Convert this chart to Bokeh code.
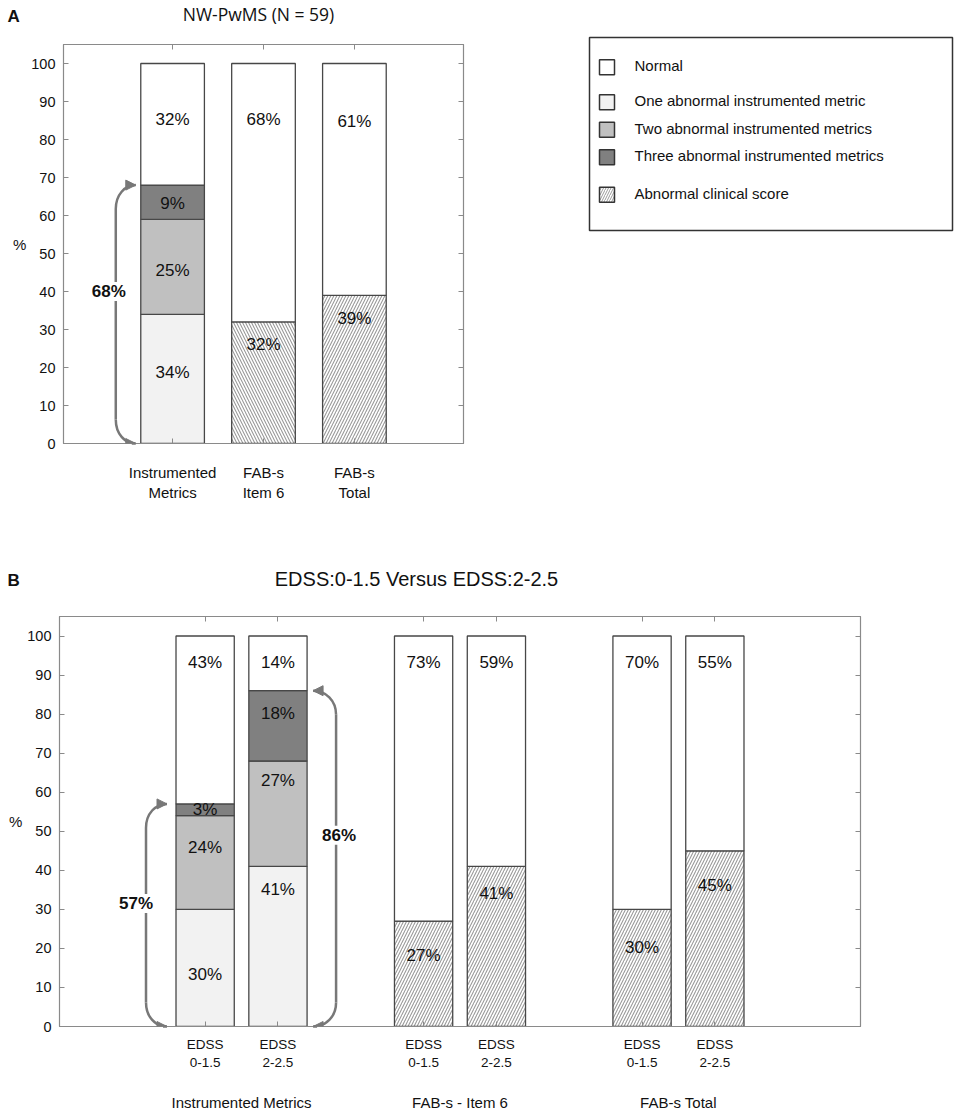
from bokeh.plotting import figure
from bokeh.models import (Range1d, LinearAxis, FixedTicker, CustomJSTickFormatter,
                          Label, Arrow, NormalHead)
from bokeh.layouts import column, row
from bokeh.embed import file_html
from bokeh.resources import INLINE
from bokeh.core.properties import value

# ------------------------------------------------------------------ data
A_TITLE = "NW-PwMS (N = 59)"
A_CATEGORIES = ["Instrumented\nMetrics", "FAB-s\nItem 6", "FAB-s\nTotal"]
A_INSTR = [34, 25, 9, 32]          # one / two / three abnormal metrics, normal
A_CLIN_ABNORMAL = [32, 39]         # FAB-s Item 6, FAB-s Total
A_CLIN_NORMAL = [68, 61]

B_TITLE = "EDSS:0-1.5 Versus EDSS:2-2.5"
B_GROUPS = ["Instrumented Metrics", "FAB-s - Item 6", "FAB-s Total"]
B_SUBGROUPS = ["EDSS\n0-1.5", "EDSS\n2-2.5"]
B_INSTR_ONE = [30, 41]
B_INSTR_TWO = [24, 27]
B_INSTR_THREE = [3, 18]
B_INSTR_NORMAL = [43, 14]
B_ITEM6_ABNORMAL = [27, 41]
B_ITEM6_NORMAL = [73, 59]
B_TOTAL_ABNORMAL = [30, 45]
B_TOTAL_NORMAL = [70, 55]

LEGEND_LABELS = ["Normal", "One abnormal instrumented metric",
                 "Two abnormal instrumented metrics",
                 "Three abnormal instrumented metrics", "Abnormal clinical score"]
Y_TICKS = list(range(0, 101, 10))

# ------------------------------------------------------------------ style
FONT = "Liberation Sans"
TITLE_FONT = "Open Sans"
FRAME = "#8a8a8a"
EDGE = "#474747"
TXT = "#111111"
C_NORMAL, C_ONE, C_TWO, C_THREE = "#ffffff", "#f2f2f2", "#c0c0c0", "#808080"
HATCH = "#9a9a9a"
ARROW_C = "#787878"
Y_MAX = 105
PCT_SIZE = "17px"

# label drops (in % units below the top of a segment)
A_DROP_INSTR = [15.3, 13.5, 4.8, 14.7]
A_DROP_CLIN = [(6, 14.7), (6, 15.3)]
B_DROP_INSTR = [[16.6, 8.1, 1.3, 6.7], [5.8, 5.0, 5.9, 6.7]]
B_DROP_ITEM6 = [(8.9, 6.7), (7.0, 6.7)]
B_DROP_TOTAL = [(9.7, 6.7), (8.9, 6.7)]


class Panel:
    def __init__(self, width, height, xr, fl, ft, fw, fh):
        self.xr = xr
        self.ppx = fw / (xr[1] - xr[0])
        self.ppy = fh / Y_MAX
        p = figure(width=width, height=height, x_range=Range1d(*xr), y_range=Range1d(0, Y_MAX),
                   x_axis_type=None, y_axis_type=None, toolbar_location=None,
                   output_backend="svg", min_border_left=fl, min_border_top=ft,
                   min_border_right=width - fl - fw, min_border_bottom=height - ft - fh)
        p.outline_line_color = FRAME
        p.outline_line_width = 1.2
        p.background_fill_color = "white"
        p.border_fill_color = "white"
        self.p = p


def pixel_fig(w, h):
    f = figure(width=w, height=h, x_range=Range1d(0, w), y_range=Range1d(h, 0),
               x_axis_type=None, y_axis_type=None, toolbar_location=None,
               output_backend="svg", min_border=0)
    f.outline_line_color = None
    return f


def make_axis(ticks, labels=None, size="15px", standoff=7, axis_label=None):
    ax = LinearAxis(ticker=FixedTicker(ticks=ticks))
    ax.major_tick_in = 5
    ax.major_tick_out = 0
    ax.minor_tick_in = 0
    ax.minor_tick_out = 0
    ax.axis_line_color = FRAME
    ax.major_tick_line_color = FRAME
    ax.major_label_text_font = FONT
    ax.major_label_text_font_size = size
    ax.major_label_text_color = TXT
    if labels is None:
        ax.major_label_standoff = 0
        ax.formatter = CustomJSTickFormatter(code="return ''")
    else:
        ax.major_label_standoff = standoff
        ax.formatter = CustomJSTickFormatter(args=dict(labels=labels), code="return labels[index]")
    if axis_label:
        ax.axis_label = axis_label
        ax.axis_label_text_font = FONT
        ax.axis_label_text_font_size = "15px"
        ax.axis_label_text_font_style = "normal"
        ax.axis_label_text_color = TXT
        ax.axis_label_standoff = 2
        try:
            ax.axis_label_orientation = "horizontal"
        except Exception:
            pass
    return ax


def frame_axes(P, xticks, xlabels, xsize, xstandoff):
    p = P.p
    p.add_layout(make_axis(Y_TICKS, [str(t) for t in Y_TICKS], size="14.5px", standoff=8,
                           axis_label="%"), "left")
    p.add_layout(make_axis(Y_TICKS), "right")
    p.add_layout(make_axis(xticks), "above")
    p.add_layout(make_axis(xticks, xlabels, xsize, xstandoff), "below")


def bar(p, x, bottom, top, width, fill, hatch=None):
    kw = dict(x=[x], bottom=[bottom], top=[top], width=width, fill_color=fill,
              line_color=EDGE, line_width=1.3)
    if hatch:
        kw.update(hatch_pattern=hatch, hatch_color=HATCH, hatch_scale=6, hatch_weight=1.1)
    p.vbar(**kw)


def pct(p, x, y, v):
    p.text(x=[x], y=[y], text=[f"{v}%"], text_font=value(FONT), text_font_size=PCT_SIZE,
           text_align="center", text_baseline="middle", text_color=TXT)


def bracket(P, x_edge, side, top, label, tip_gap, line_gap, label_dx, label_y):
    p = P.p
    tip = x_edge + side * tip_gap / P.ppx
    xv = x_edge + side * line_gap / P.ppx
    dy = 24 / P.ppy
    p.segment(x0=[xv], y0=[dy], x1=[xv], y1=[top - dy], line_color=ARROW_C, line_width=2.5)
    for y_end, y_start in ((top, top - dy), (0, dy)):
        p.bezier(x0=[xv], y0=[y_start], x1=[tip], y1=[y_end],
                 cx0=[xv], cy0=[y_start + 0.6 * (y_end - y_start)],
                 cx1=[xv + 0.45 * (tip - xv)], cy1=[y_end],
                 line_color=ARROW_C, line_width=2.5)
        p.add_layout(Arrow(end=NormalHead(size=10, fill_color=ARROW_C, line_color=ARROW_C, line_width=1),
                           x_start=tip + side * 4 / P.ppx, y_start=y_end,
                           x_end=tip, y_end=y_end, line_color=ARROW_C, line_width=2.5))
    p.add_layout(Label(x=xv + label_dx / P.ppx, y=label_y, text=label, text_font=FONT,
                       text_font_size=PCT_SIZE, text_font_style="bold", text_color=TXT,
                       text_align="center", text_baseline="middle",
                       background_fill_color="white"))


def ptext(f, x, y, text, size, font=FONT, style="normal", align="center"):
    f.text(x=[x], y=[y], text=[text], text_font=value(font), text_font_size=size,
           text_font_style=style, text_color=TXT, text_align=align, text_baseline="middle")


# ------------------------------------------------------------------ panel A
hA = pixel_fig(570, 34)
ptext(hA, 7, 16, "A", "17px", style="bold", align="left")
ptext(hA, 258, 13, A_TITLE, "17.5px", font=TITLE_FONT)

A = Panel(570, 511, (-0.2, 4.2), 63, 10, 400, 399)
pa = A.p
xa = [i + 1 for i in range(len(A_CATEGORIES))]
WA = 0.7
frame_axes(A, xa, A_CATEGORIES, "15px", 20)

bottom = 0
for v, c in zip(A_INSTR, [C_ONE, C_TWO, C_THREE, C_NORMAL]):
    bar(pa, xa[0], bottom, bottom + v, WA, c)
    bottom += v
bottom = 0
for v, d in zip(A_INSTR, A_DROP_INSTR):
    pct(pa, xa[0], bottom + v - d, v)
    bottom += v
for i, (ab, no) in enumerate(zip(A_CLIN_ABNORMAL, A_CLIN_NORMAL)):
    x = xa[i + 1]
    bar(pa, x, 0, ab, WA, "white", "\\" if i == 0 else "/")
    bar(pa, x, ab, ab + no, WA, C_NORMAL)
    pct(pa, x, ab - A_DROP_CLIN[i][0], ab)
    pct(pa, x, ab + no - A_DROP_CLIN[i][1], no)

a_abn = sum(A_INSTR[:3])
bracket(A, xa[0] - WA / 2, -1, a_abn, f"{a_abn}%", 5, 25, -7, a_abn / 2 + 6)

# ------------------------------------------------------------------ legend
leg = pixel_fig(384, 545)
leg.quad(left=[19], right=[382], top=[37], bottom=[230], fill_color=None,
         line_color="#333333", line_width=1.5)
leg_y = [66.7, 101.7, 129.3, 156.7, 194.3]
leg_fill = [C_NORMAL, C_ONE, C_TWO, C_THREE, "white"]
for i, (y, f) in enumerate(zip(leg_y, leg_fill)):
    kw = dict(x=[36.5], y=[y], width=15, height=15, fill_color=f, line_color="#333333", line_width=1.5)
    if i == 4:
        kw.update(hatch_pattern="/", hatch_color=HATCH, hatch_scale=5, hatch_weight=1)
    leg.rect(**kw)
leg.text(x=[64] * len(LEGEND_LABELS), y=[y - 1.5 for y in leg_y], text=LEGEND_LABELS,
         text_font=value(FONT), text_font_size="15px", text_baseline="middle", text_color=TXT)

# ------------------------------------------------------------------ panel B
hB = pixel_fig(941, 50)
ptext(hB, 7, 35, "B", "17px", style="bold", align="left")
ptext(hB, 416, 33, B_TITLE, "20px")

B = Panel(941, 480, (-1, 10), 59, 21, 801, 410)
pb = B.p
WB = 0.8
xb = [[1 + 3 * g + s for s in range(len(B_SUBGROUPS))] for g in range(len(B_GROUPS))]
flat_x = [x for g in xb for x in g]
frame_axes(B, flat_x, B_SUBGROUPS * len(B_GROUPS), "13.5px", 10)

for s in range(2):
    x = xb[0][s]
    segs = [B_INSTR_ONE[s], B_INSTR_TWO[s], B_INSTR_THREE[s], B_INSTR_NORMAL[s]]
    bottom = 0
    for v, c in zip(segs, [C_ONE, C_TWO, C_THREE, C_NORMAL]):
        bar(pb, x, bottom, bottom + v, WB, c)
        bottom += v
    bottom = 0
    for v, d in zip(segs, B_DROP_INSTR[s]):
        pct(pb, x, bottom + v - d, v)
        bottom += v

for g, (abn, nor, drops) in enumerate([(B_ITEM6_ABNORMAL, B_ITEM6_NORMAL, B_DROP_ITEM6),
                                        (B_TOTAL_ABNORMAL, B_TOTAL_NORMAL, B_DROP_TOTAL)]):
    for s in range(2):
        x = xb[g + 1][s]
        bar(pb, x, 0, abn[s], WB, "white", "/")
        bar(pb, x, abn[s], abn[s] + nor[s], WB, C_NORMAL)
        pct(pb, x, abn[s] - drops[s][0], abn[s])
        pct(pb, x, abn[s] + nor[s] - drops[s][1], nor[s])

b_abn = [B_INSTR_ONE[s] + B_INSTR_TWO[s] + B_INSTR_THREE[s] for s in range(2)]
bracket(B, xb[0][0] - WB / 2, -1, b_abn[0], f"{b_abn[0]}%", 9, 30, -10, b_abn[0] / 2 + 3)
bracket(B, xb[0][1] + WB / 2, 1, b_abn[1], f"{b_abn[1]}%", 6, 29, 3, b_abn[1] / 2 + 6)

# group labels below panel B, on the same x scale
fB = figure(width=941, height=35, x_range=Range1d(-1, 10), y_range=Range1d(35, 0),
            x_axis_type=None, y_axis_type=None, toolbar_location=None, output_backend="svg",
            min_border_left=59, min_border_right=81, min_border_top=0, min_border_bottom=0)
fB.outline_line_color = None
fB.text(x=[sum(g) / len(g) for g in xb], y=[27] * len(B_GROUPS), text=B_GROUPS,
        text_font=value(FONT), text_font_size="15px", text_align="center",
        text_baseline="middle", text_color=TXT)

layout = column(
    row(column(row(hA), row(pa)), column(leg)),
    row(hB),
    row(pb),
    row(fB),
)
open("out.html", "w").write(file_html(layout, INLINE))
